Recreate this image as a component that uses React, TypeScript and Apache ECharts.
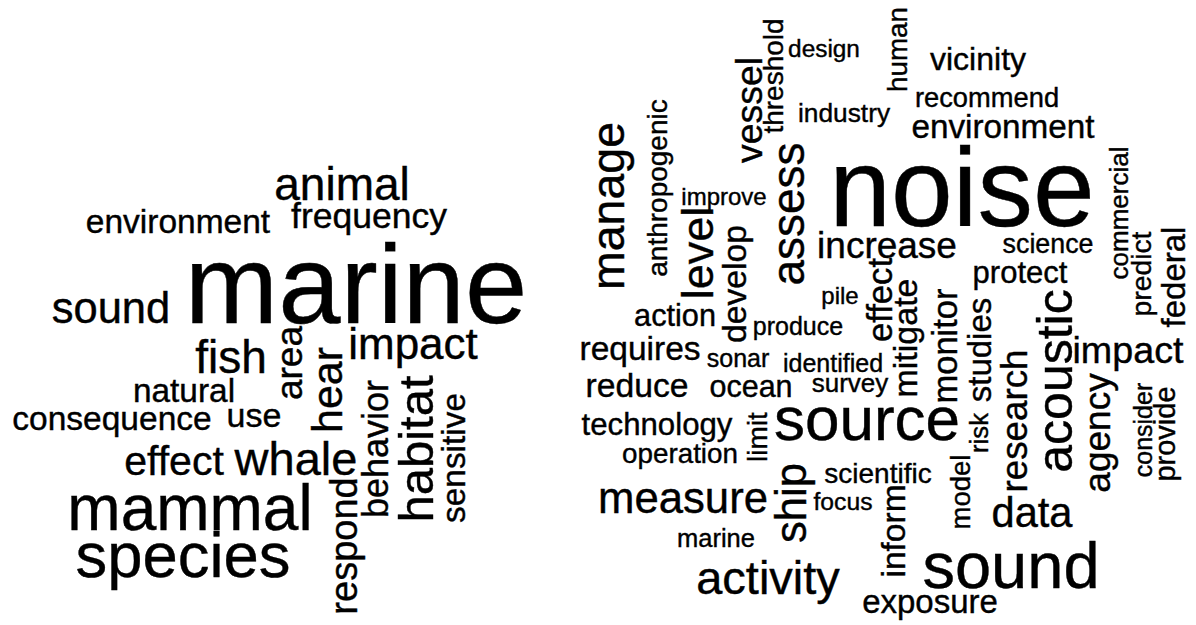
import React, { useEffect, useRef } from "react";
import * as echarts from "echarts";

// Left cloud (general marine terms)
const leftWords = ["animal", "environment", "frequency", "marine", "sound", "fish", "area", "impact", "natural", "hear", "consequence", "use", "behavior", "habitat", "sensitive", "effect", "whale", "mammal", "respond", "species"];
const leftWeight = [46, 33.5, 35.5, 112, 43.5, 46, 37, 44, 33.4, 43, 33.5, 34, 36, 49, 33.4, 41, 47, 64, 38, 63.4];
const leftX = [342, 178, 369, 356, 111, 231, 289, 413, 184, 327, 112, 254, 375, 416, 453, 174, 296, 190, 344, 183];
const leftY = [184, 221, 216, 284, 308, 357, 363, 343, 390, 390, 418, 415, 449, 449, 458, 461, 458, 508, 546, 555];
const leftVertical = [0, 0, 0, 0, 0, 0, 1, 0, 0, 1, 0, 0, 1, 1, 1, 0, 0, 0, 1, 0];

// Right cloud (noise terms)
const rightWords = ["threshold", "design", "human", "vicinity", "recommend", "industry", "vessel", "environment", "anthropogenic", "manage", "improve", "noise", "commercial", "assess", "level", "develop", "increase", "science", "predict", "federal", "pile", "effect", "protect", "action", "produce", "mitigate", "monitor", "studies", "requires", "sonar", "identified", "impact", "reduce", "ocean", "survey", "acoustic", "agency", "research", "technology", "limit", "source", "risk", "consider", "provide", "operation", "ship", "scientific", "measure", "focus", "model", "inform", "data", "marine", "activity", "sound", "exposure"];
const rightWeight = [28, 24.4, 27.8, 32, 27.3, 26.3, 37.4, 33.3, 28, 46.5, 24, 111, 26, 46, 45, 33.7, 37, 26.8, 28.3, 33, 24, 34.7, 31, 30.7, 25, 34, 34.5, 33, 33.5, 25, 25, 37.7, 33.7, 30.5, 26, 50, 37, 36.8, 31.2, 28, 62, 25.7, 25, 29, 27.8, 43.6, 28, 43.7, 24.7, 27.5, 33.5, 41.6, 25.5, 47, 65, 33];
const rightX = [773, 824, 897, 978, 987, 844, 749, 1003, 657, 608, 724, 962, 1119, 788, 697, 734, 887, 1048, 1141, 1173, 840, 880, 1020, 675, 798, 905, 945, 979, 640, 738, 833, 1128, 637, 751, 850, 1055, 1097, 1014, 657, 757, 867, 979, 1143, 1165, 680, 791, 878, 683, 843, 960, 893, 1032, 716, 768, 1011, 930];
const rightY = [76, 48.5, 49.5, 59, 97, 113, 110, 126, 188, 206, 196, 188, 213, 214, 253, 284, 245, 244, 274, 277, 295, 300, 272, 315, 326, 338, 346, 350, 348, 358, 363, 350, 385, 386, 383, 381, 433, 421, 424, 437, 418, 433, 430, 434, 453, 503, 473, 497, 501, 492, 531, 512, 538, 577, 565, 601];
const rightVertical = [1, 0, 1, 0, 0, 0, 1, 0, 1, 1, 0, 0, 1, 1, 1, 1, 0, 0, 1, 1, 0, 1, 0, 0, 0, 1, 1, 1, 0, 0, 0, 0, 0, 0, 0, 1, 1, 1, 0, 1, 0, 1, 1, 1, 0, 1, 0, 0, 0, 1, 1, 0, 0, 0, 0, 0];

const WIDTH = 1196;
const HEIGHT = 625;

function buildData(words: string[], weight: number[], xs: number[], ys: number[], vert: number[]) {
  return words.map((w, i) => ({
    name: w,
    value: [xs[i], ys[i]],
    label: { fontSize: weight[i], rotate: vert[i] ? 90 : 0 },
  }));
}

export default function App() {
  const ref = useRef<HTMLDivElement>(null);
  useEffect(() => {
    if (!ref.current) return;
    const chart = echarts.init(ref.current, undefined, { renderer: "svg" });
    const labelBase = {
      show: true,
      position: "inside",
      formatter: "{b}",
      color: "#000000",
      opacity: 1,
      textBorderColor: "#000000",
      textBorderWidth: 0.4,
      fontFamily: "'Liberation Sans', Arial, sans-serif",
      fontWeight: "normal",
      align: "center",
      verticalAlign: "middle",
    };
    const seriesBase = {
      type: "scatter",
      symbolSize: 0,
      silent: true,
      itemStyle: { color: "#ffffff", opacity: 1 },
      label: labelBase,
    };
    chart.setOption({
      animation: false,
      backgroundColor: "#ffffff",
      grid: { left: 0, right: 0, top: 0, bottom: 0 },
      xAxis: { type: "value", min: 0, max: WIDTH, show: false },
      yAxis: { type: "value", min: 0, max: HEIGHT, inverse: true, show: false },
      series: [
        { ...seriesBase, name: "left", data: buildData(leftWords, leftWeight, leftX, leftY, leftVertical) },
        { ...seriesBase, name: "right", data: buildData(rightWords, rightWeight, rightX, rightY, rightVertical) },
      ],
    });
    return () => chart.dispose();
  }, []);
  return (
    <div
      ref={ref}
      style={{ position: "fixed", left: 0, top: 0, width: WIDTH, height: HEIGHT, background: "#fff" }}
    />
  );
}
